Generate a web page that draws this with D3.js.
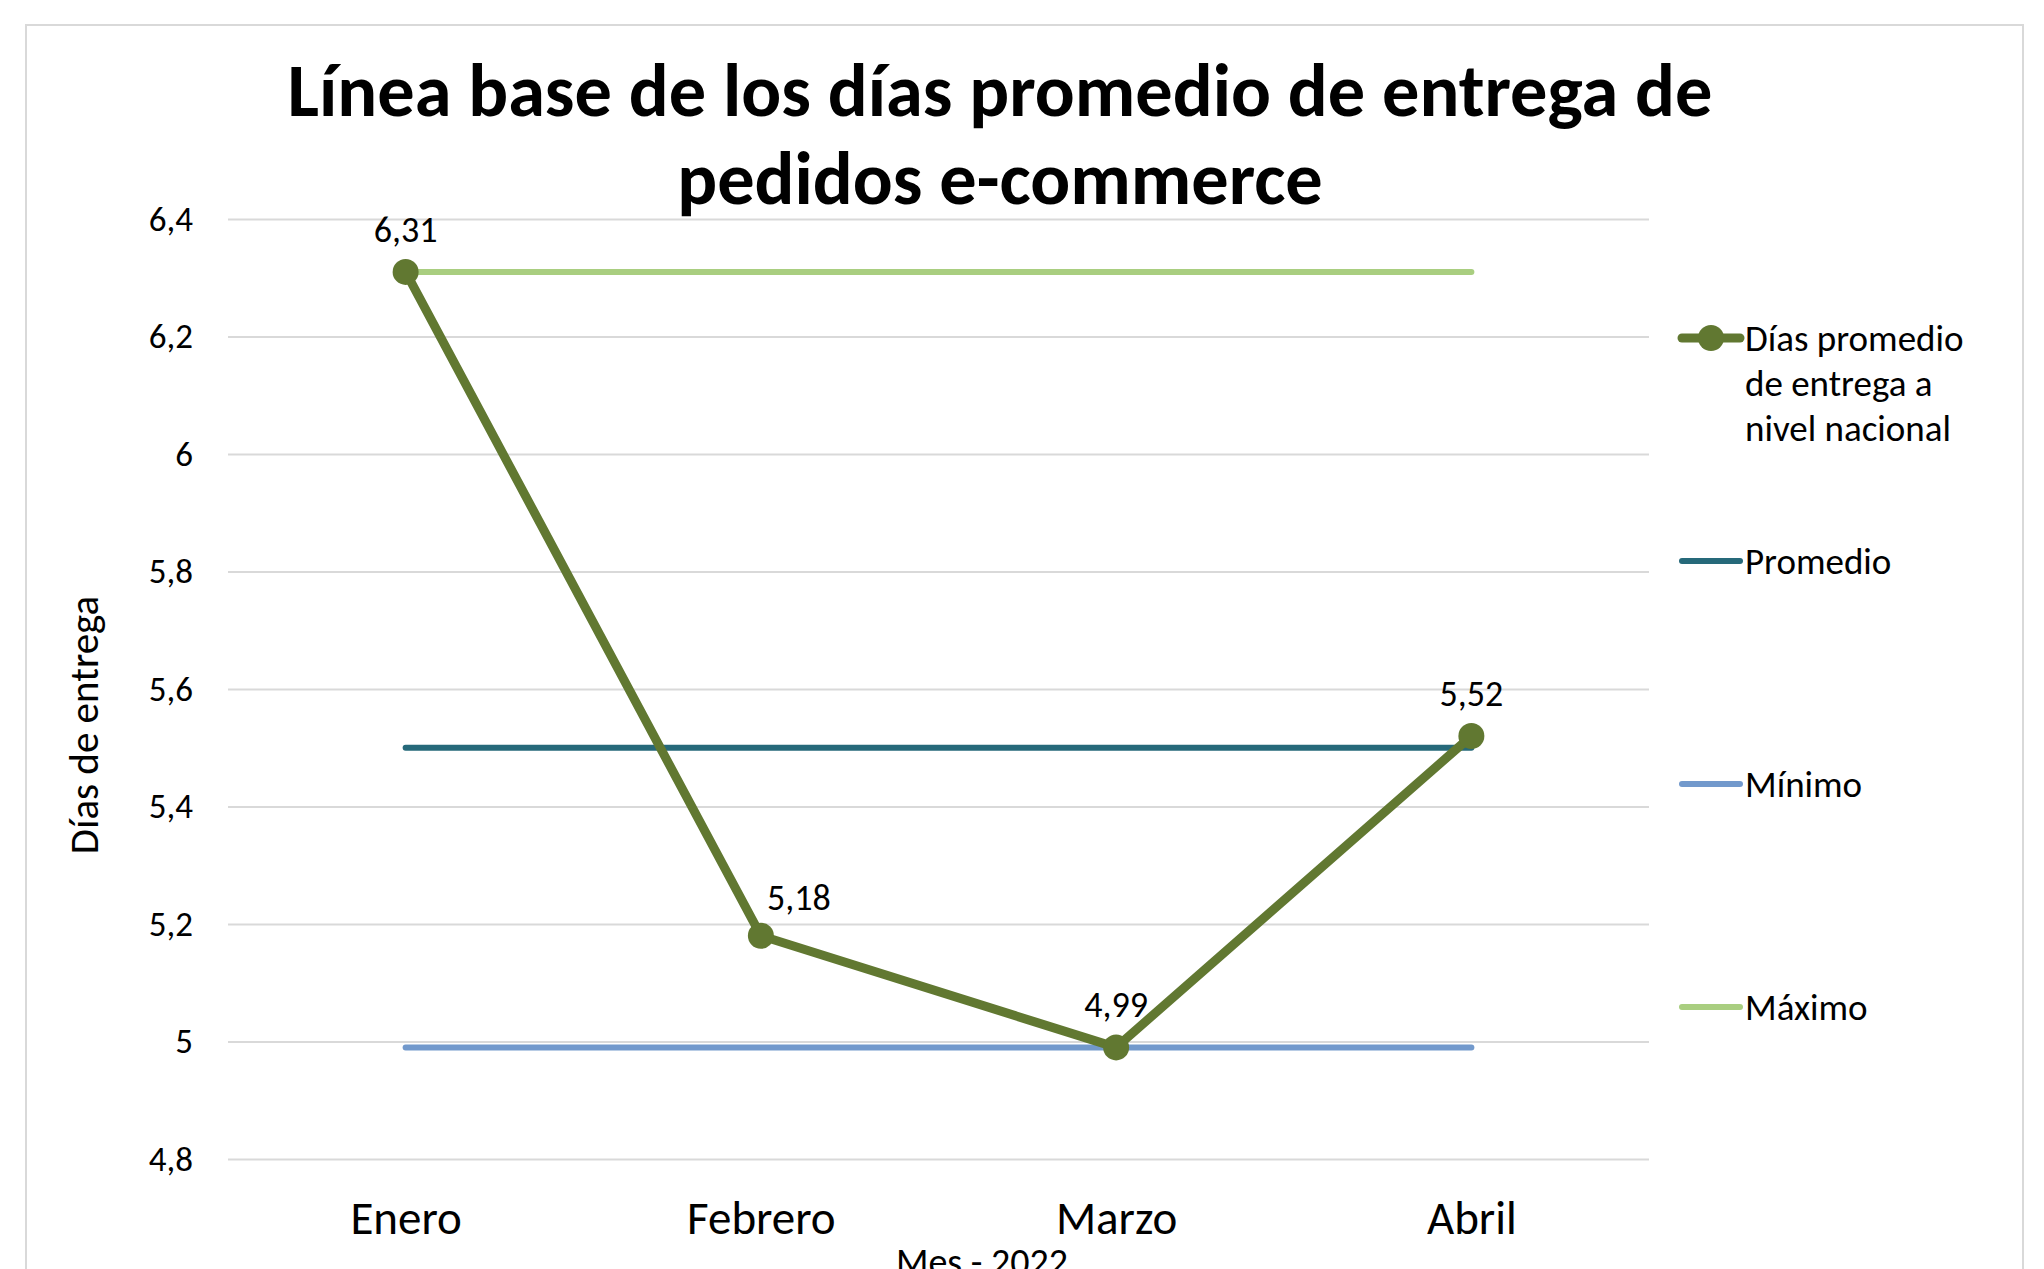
<!DOCTYPE html>
<html>
<head>
<meta charset="utf-8">
<script src="https://cdn.jsdelivr.net/npm/d3@7"></script>
<style>
  html, body { margin: 0; padding: 0; background: #fff; }
  svg { display: block; font-family: Calibri, Carlito, Lato, sans-serif; }
</style>
</head>
<body>
<script>
const width = 2044;
const height = 1269;

// data
const months = ["Enero", "Febrero", "Marzo", "Abril"];
const diasPromedio = [6.31, 5.18, 4.99, 5.52];
const promedio = [5.5, 5.5, 5.5, 5.5];
const minimo = [4.99, 4.99, 4.99, 4.99];
const maximo = [6.31, 6.31, 6.31, 6.31];
const yTicks = [4.8, 5, 5.2, 5.4, 5.6, 5.8, 6, 6.2, 6.4];
const titleLines = ["Línea base de los días promedio de entrega de", "pedidos e-commerce"];
const seriesNames = ["Días promedio de entrega a nivel nacional", "Promedio", "Mínimo", "Máximo"];

const marginTop = 219;
const marginLeft = 228;
const plotRight = 1649;
const plotBottom = 1159;

const colors = {
  main: "#617831",
  prom: "#26697a",
  min: "#7299cc",
  max: "#a9ce80",
};

const fmt = (v) => String(v).replace(".", ",");

const x = d3.scalePoint(months, [marginLeft, plotRight]).padding(0.5);
const y = d3.scaleLinear([4.8, 6.4], [plotBottom, marginTop]);

const svg = d3
  .select("body")
  .append("svg")
  .attr("width", width)
  .attr("height", height);

// chart frame
svg
  .append("rect")
  .attr("x", 26)
  .attr("y", 25)
  .attr("width", 1997)
  .attr("height", 1300)
  .attr("fill", "#fff")
  .attr("stroke", "#d9d9d9")
  .attr("stroke-width", 2);

// title
const title = svg
  .append("g")
  .attr("font-weight", 700)
  .attr("text-anchor", "middle")
  .attr("fill", "#000");
title
  .selectAll("text")
  .data(titleLines)
  .join("text")
  .attr("x", 1000)
  .attr("y", (d, i) => 116 + i * 88)
  .attr("font-size", 62)
  .text((d) => d);
// squeeze the first line to the width it has in the reference
const t0 = title.select("text").node();
const w0 = t0.getComputedTextLength();
const fs = 62 * 1425 / w0;
title.selectAll("text").attr("font-size", fs);

// gridlines + y axis
const yAxis = svg
  .append("g")
  .attr("transform", `translate(${marginLeft},0)`)
  .call(
    d3.axisLeft(y)
      .tickValues(yTicks)
      .tickSize(-(plotRight - marginLeft))
      .tickPadding(35)
      .tickFormat(fmt)
  );
yAxis.select(".domain").remove();
yAxis.selectAll(".tick line").attr("stroke", "#d9d9d9").attr("stroke-width", 2);
yAxis
  .selectAll(".tick text")
  .attr("font-family", "Calibri, Carlito, Lato, sans-serif")
  .attr("font-size", 35)
  .attr("fill", "#000");

// x axis labels
const xAxis = svg
  .append("g")
  .attr("transform", `translate(0,${plotBottom})`)
  .call(d3.axisBottom(x).tickSize(0).tickPadding(42));
xAxis.select(".domain").remove();
xAxis
  .selectAll(".tick text")
  .attr("font-family", "Calibri, Carlito, Lato, sans-serif")
  .attr("font-size", 47)
  .attr("fill", "#000");

// axis titles
svg
  .append("text")
  .attr("transform", "translate(98,725) rotate(-90)")
  .attr("text-anchor", "middle")
  .attr("font-size", 41)
  .text("Días de entrega");

svg
  .append("text")
  .attr("x", 982)
  .attr("y", 1275)
  .attr("text-anchor", "middle")
  .attr("font-size", 38)
  .text("Mes - 2022");

// lines
const line = d3
  .line()
  .x((d, i) => x(months[i]))
  .y((d) => y(d));

const refSeries = [
  { values: promedio, color: colors.prom },
  { values: minimo, color: colors.min },
  { values: maximo, color: colors.max },
];

svg
  .append("g")
  .selectAll("path")
  .data(refSeries)
  .join("path")
  .attr("d", (d) => line(d.values))
  .attr("fill", "none")
  .attr("stroke", (d) => d.color)
  .attr("stroke-width", 6)
  .attr("stroke-linecap", "round");

svg
  .append("path")
  .attr("d", line(diasPromedio))
  .attr("fill", "none")
  .attr("stroke", colors.main)
  .attr("stroke-width", 9)
  .attr("stroke-linejoin", "round")
  .attr("stroke-linecap", "round");

svg
  .append("g")
  .selectAll("circle")
  .data(diasPromedio)
  .join("circle")
  .attr("cx", (d, i) => x(months[i]))
  .attr("cy", (d) => y(d))
  .attr("r", 13)
  .attr("fill", colors.main);

// data labels (Febrero sits a bit to the right of the line)
svg
  .append("g")
  .attr("text-anchor", "middle")
  .attr("font-size", 36)
  .selectAll("text")
  .data(diasPromedio)
  .join("text")
  .attr("x", (d, i) => x(months[i]) + (i === 1 ? 38 : 0))
  .attr("y", (d, i) => y(d) - (i === 1 ? 26 : 30))
  .text(fmt);

// legend
const legendY = [338, 561, 784, 1007];
const legend = svg
  .append("g")
  .selectAll("g")
  .data(seriesNames)
  .join("g")
  .attr("transform", (d, i) => `translate(1682,${legendY[i]})`);

legend
  .append("line")
  .attr("x1", 0)
  .attr("x2", 58)
  .attr("stroke", (d, i) => [colors.main, colors.prom, colors.min, colors.max][i])
  .attr("stroke-width", (d, i) => (i === 0 ? 9 : 6))
  .attr("stroke-linecap", "round");

legend
  .filter((d, i) => i === 0)
  .append("circle")
  .attr("cx", 29)
  .attr("r", 13)
  .attr("fill", colors.main);

const legendLines = [["Días promedio", "de entrega a", "nivel nacional"], ["Promedio"], ["Mínimo"], ["Máximo"]];
legend
  .append("text")
  .attr("font-size", 37)
  .attr("fill", "#000")
  .selectAll("tspan")
  .data((d, i) => legendLines[i])
  .join("tspan")
  .attr("x", 63)
  .attr("y", (d, i) => i * 45)
  .attr("dy", "0.35em")
  .text((d) => d);
</script>
</body>
</html>
